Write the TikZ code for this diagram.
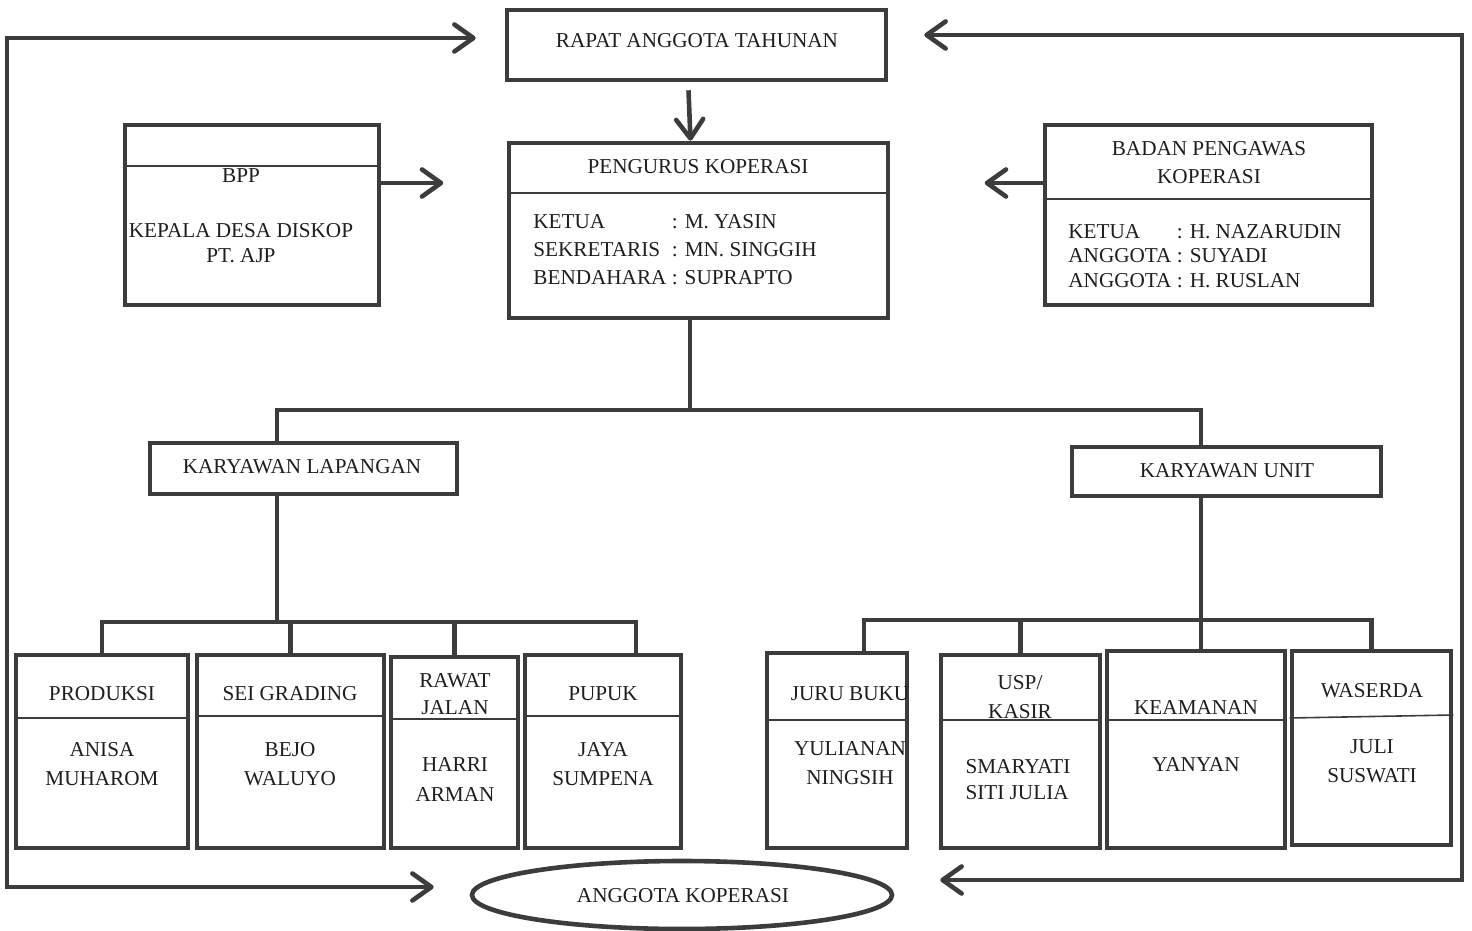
\documentclass[tikz,border=0pt]{standalone}
\usepackage{fontspec}
\setmainfont{Liberation Serif}
\usetikzlibrary{arrows.meta, calc, shapes.geometric}
\definecolor{linie}{RGB}{60,60,60}
\definecolor{tinte}{RGB}{30,30,30}

\begin{document}
\begin{tikzpicture}[x=0.5pt, y=-0.5pt, linie,
    frame/.style={draw=linie, line width=2.3pt, inner sep=0pt, rectangle},
    txt/.style={text=tinte, inner sep=0pt, align=center, font=\fontsize{10.6}{14.5}\selectfont},
    teiler/.style={draw=linie, line width=0.8pt},
    conn/.style={draw=linie, line width=2.3pt},
    arr/.style={conn, -{Straight Barb[length=9.5pt,width=13.5pt,round]}},
    biarr/.style={conn, {Straight Barb[length=9.5pt,width=13.5pt,round]}-{Straight Barb[length=9.5pt,width=13.5pt,round]}}]

    \useasboundingbox (0,0) rectangle (1472,931);

    % oberer teil
    \node[frame, minimum width=189.5pt, minimum height=35pt] (rat) at (696.5,45) {};
    \node[frame, minimum width=189.5pt, minimum height=87.5pt] (pengurus) at (698.5,230.5) {};
    \node[frame, minimum width=127pt, minimum height=90pt] (bpp) at (252,215) {};
    \node[frame, minimum width=163.5pt, minimum height=90pt] (bpk) at (1208.5,215) {};

    \node[txt] (rat-txt) at (697,41) {RAPAT ANGGOTA TAHUNAN};
    \node[txt] (pengurus-titel) at (698,167) {PENGURUS KOPERASI};
    \draw[teiler] (pengurus.west |- 0,193) -- (pengurus.east |- 0,193);
    \node[txt, anchor=west, font=\fontsize{10.6}{14}\selectfont] (pengurus-txt) at (533,251) {\begin{tabular}{@{}l@{ }l@{}}
        KETUA & : M. YASIN\\
        SEKRETARIS & : MN. SINGGIH\\
        BENDAHARA & : SUPRAPTO
    \end{tabular}};

    \draw[teiler] (bpp.west |- 0,166) -- (bpp.east |- 0,166);
    \node[txt] (bpp-titel) at (241,176) {BPP};
    \node[txt, font=\fontsize{10.6}{12.5}\selectfont] (bpp-txt) at (241,243.5) {KEPALA DESA DISKOP\\PT. AJP};

    \node[txt, font=\fontsize{10.6}{14}\selectfont] (bpk-titel) at (1209,163) {BADAN PENGAWAS\\KOPERASI};
    \draw[teiler] (bpk.west |- 0,199) -- (bpk.east |- 0,199);
    \node[txt, anchor=west, font=\fontsize{10.6}{12.3}\selectfont] (bpk-txt) at (1068,258) {\begin{tabular}{@{}l@{ }l@{}}
        KETUA & : H. NAZARUDIN\\
        ANGGOTA & : SUYADI\\
        ANGGOTA & : H. RUSLAN
    \end{tabular}};

    \draw[arr] ([xshift=-4pt,yshift=-4pt]rat.south) -- ([xshift=-4pt]pengurus.north);
    \draw[arr] ([yshift=16pt]bpp.east) -- ++(31pt,0);
    \draw[arr] ([yshift=16pt]bpk.west) -- ++(-29pt,0);

    % karyawan
    \node[frame, minimum width=153.5pt, minimum height=25.5pt] (kl) at (303.5,468.5) {};
    \node[frame, minimum width=154.5pt, minimum height=24.5pt] (ku) at (1226.5,471.5) {};
    \node[txt] (kl-txt) at (302,467) {KARYAWAN LAPANGAN};
    \node[txt] (ku-txt) at (1227,471) {KARYAWAN UNIT};

    \coordinate (haupt-bus) at (690,410);
    \draw[conn] ([xshift=-4.25pt]pengurus.south) -- (haupt-bus);
    \draw[conn] ([xshift=-13.25pt]kl.north) |- (haupt-bus) -| ([xshift=-12.75pt]ku.north);

    % bagian lapangan
    \node[frame, minimum width=86pt, minimum height=96.5pt] (produksi) at (102,751.5) {};
    \node[frame, minimum width=93.5pt, minimum height=96.5pt] (sei) at (290.5,751.5) {};
    \node[frame, minimum width=63.5pt, minimum height=95.5pt] (rawat) at (454.5,752.5) {};
    \node[frame, minimum width=78pt, minimum height=96.5pt] (pupuk) at (603,751.5) {};

    \draw[teiler] (produksi.west |- 0,718) -- (produksi.east |- 0,718);
    \draw[teiler] (sei.west |- 0,716) -- (sei.east |- 0,716);
    \draw[teiler] (rawat.west |- 0,719) -- (rawat.east |- 0,719);
    \draw[teiler] (pupuk.west |- 0,716) -- (pupuk.east |- 0,716);

    \node[txt] (produksi-titel) at (102,694) {PRODUKSI};
    \node[txt] (produksi-txt) at (102,764.5) {ANISA\\MUHAROM};
    \node[txt] (sei-titel) at (290,694) {SEI GRADING};
    \node[txt] (sei-txt) at (290,764.5) {BEJO\\WALUYO};
    \node[txt, font=\fontsize{10.6}{13.5}\selectfont] (rawat-titel) at (455,694.5) {RAWAT\\JALAN};
    \node[txt, font=\fontsize{10.6}{15}\selectfont] (rawat-txt) at (455,779) {HARRI\\ARMAN};
    \node[txt] (pupuk-titel) at (603,694) {PUPUK};
    \node[txt] (pupuk-txt) at (603,764.5) {JAYA\\SUMPENA};

    \coordinate (kl-bus) at (277,622);
    \draw[conn] ([xshift=-13.25pt]kl.south) -- (kl-bus);
    \draw[conn] (produksi.north) |- (kl-bus) -| ([xshift=16.5pt]pupuk.north);
    \draw[conn] (sei.north) -- (sei.north |- kl-bus);
    \draw[conn] (rawat.north) -- (rawat.north |- kl-bus);

    % bagian unit
    \node[frame, minimum width=70pt, minimum height=97.5pt] (juru) at (837,750.5) {};
    \node[frame, minimum width=79.5pt, minimum height=96.5pt] (usp) at (1020.5,751.5) {};
    \node[frame, minimum width=89pt, minimum height=98.5pt] (keamanan) at (1196,749.5) {};
    \node[frame, minimum width=79.5pt, minimum height=97pt] (waserda) at (1371.5,748) {};

    \draw[teiler] (juru.west |- 0,720) -- (juru.east |- 0,720);
    \draw[teiler] (usp.west |- 0,720) -- (usp.east |- 0,720);
    \draw[teiler] (keamanan.west |- 0,720) -- (keamanan.east |- 0,720);
    \draw[teiler] (waserda.west |- 0,718) -- (waserda.east |- 0,715);

    \node[txt] (juru-titel) at (850,694) {JURU BUKU};
    \node[txt] (juru-txt) at (850,763.5) {YULIANAN\\NINGSIH};
    \node[txt] (usp-titel) at (1020,697.5) {USP/\\KASIR};
    \node[txt, align=left, font=\fontsize{10.6}{13}\selectfont] (usp-txt) at (1018,780) {SMARYATI\\SITI JULIA};
    \node[txt] (keamanan-titel) at (1196,707) {KEAMANAN};
    \node[txt] (keamanan-txt) at (1196,764) {YANYAN};
    \node[txt] (waserda-titel) at (1372,691) {WASERDA};
    \node[txt] (waserda-txt) at (1372,761.5) {JULI\\SUSWATI};

    \coordinate (ku-bus) at (1201,620);
    \draw[conn] ([xshift=-12.75pt]ku.south) -- (ku-bus);
    \draw[conn] ([xshift=13.5pt]juru.north) |- (ku-bus) -| (waserda.north);
    \draw[conn] (usp.north) -- (usp.north |- ku-bus);
    \draw[conn] (ku-bus |- keamanan.north) -- (ku-bus);

    % anggota und rueckkopplung
    \node[ellipse, draw=linie, line width=2.3pt, minimum width=210pt, minimum height=34pt, inner sep=0pt] (anggota) at (682,895) {};
    \node[txt] (anggota-txt) at (683,896) {ANGGOTA KOPERASI};

    \coordinate (links) at (7,500);
    \coordinate (rechts) at (1462,500);
    \draw[biarr] ([xshift=-14.5pt,yshift=3.5pt]rat.west) -| (links) |- ([xshift=-18pt,yshift=4pt]anggota.west);
    \draw[biarr] ([xshift=18pt,yshift=5pt]rat.east) -| (rechts) |- ([xshift=23pt,yshift=7.5pt]anggota.east);

\end{tikzpicture}
\end{document}
